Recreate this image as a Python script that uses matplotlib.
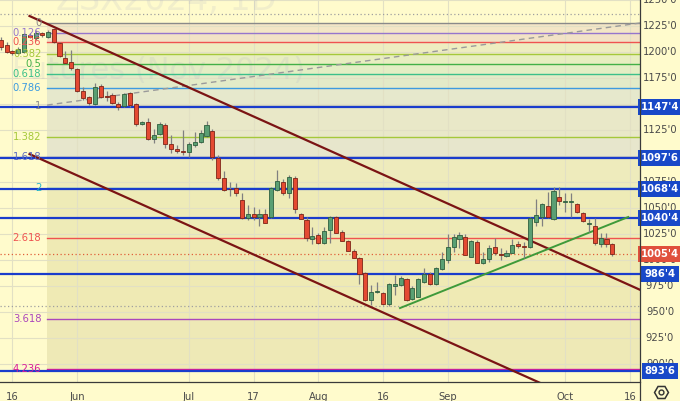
import matplotlib
matplotlib.use('Agg')
import matplotlib.pyplot as plt
import matplotlib.transforms as mtransforms
import numpy as np

# ---------------- data ----------------
opens = [1211.6,1206.8,1201.1,1198.8,1200.4,1216.4,1213.3,1218.1,1214.2,1221.9,
         1209.2,1194.6,1190.5,1183.5,1162.9,1156.6,1150.1,1167.4,1158.0,1158.5,
         1149.8,1148.5,1160.4,1150.1,1130.6,1132.5,1116.5,1121.0,1129.9,1111.4,
         1106.9,1105.2,1104.3,1110.7,1113.3,1119.6,1124.4,1098.5,1079.3,1068.5,
         1069.1,1057.8,1040.5,1044.1,1041.8,1044.1,1041.2,1067.5,1074.8,1064.8,
         1078.7,1044.7,1038.6,1020.3,1023.9,1016.8,1029.0,1041.2,1026.8,1018.4,
         1008.5,1001.8,987.4,961.7,969.7,968.1,957.6,975.4,976.6,981.6,
         963.0,964.9,979.3,987.0,977.1,991.2,1000.5,1012.4,1020.6,1022.0,
         1003.1,1017.8,997.0,1000.8,1012.4,1005.9,1004.0,1007.2,1015.3,1013.3,
         1012.4,1037.0,1041.8,1052.3,1039.6,1061.0,1055.9,1055.6,1054.0,1045.6,
         1034.5,1032.9,1015.3,1020.1,1015.5]
highs = [1214.5,1209.7,1202.0,1204.9,1218.4,1218.4,1221.2,1219.3,1221.2,1223.2,
         1209.7,1201.1,1202.0,1184.7,1166.5,1157.8,1170.3,1169.3,1162.6,1160.7,
         1152.0,1160.7,1161.6,1151.1,1134.1,1136.4,1125.8,1133.1,1131.6,1120.3,
         1110.7,1125.1,1113.9,1123.5,1125.1,1134.1,1125.8,1101.1,1085.7,1075.4,
         1073.9,1064.3,1053.0,1050.8,1048.9,1049.2,1070.6,1086.7,1077.7,1081.8,
         1080.9,1045.6,1041.8,1031.6,1025.8,1032.2,1042.5,1042.5,1029.0,1019.4,
         1010.4,1002.7,988.9,976.1,979.3,969.7,977.8,985.7,984.8,982.6,
         975.2,982.6,992.2,988.9,993.7,1008.2,1025.1,1025.1,1027.4,1025.1,
         1019.4,1019.4,1008.2,1014.6,1021.0,1011.4,1009.8,1020.1,1018.4,1017.8,
         1041.8,1058.5,1055.2,1065.8,1070.6,1070.6,1064.3,1064.3,1055.2,1046.6,
         1039.3,1040.2,1025.8,1025.8,1016.2]
lows = [1202.0,1199.1,1197.2,1198.2,1199.1,1213.5,1211.6,1214.5,1213.6,1208.7,
        1195.3,1188.6,1182.8,1161.7,1154.0,1149.2,1149.2,1155.9,1153.0,1150.1,
        1144.4,1147.2,1147.2,1128.9,1129.6,1115.5,1112.9,1120.3,1107.5,1103.3,
        1102.7,1101.1,1099.5,1109.1,1112.3,1118.7,1096.3,1077.1,1066.5,1061.7,
        1061.7,1039.6,1038.6,1038.6,1032.8,1035.7,1041.0,1066.5,1062.6,1059.5,
        1045.6,1039.3,1018.7,1015.5,1015.5,1015.5,1016.8,1025.8,1018.1,1008.5,
        1001.8,977.1,961.2,956.9,968.8,956.9,955.9,966.5,975.2,961.0,
        961.7,964.3,977.8,976.1,976.4,990.6,997.0,1008.2,1011.4,1005.0,
        1002.8,997.0,996.3,998.5,1004.9,1000.2,1003.3,1006.6,1011.4,1001.8,
        1011.4,1032.8,1032.8,1040.2,1038.6,1053.0,1046.6,1041.8,1045.0,1037.0,
        1027.4,1014.6,1012.9,1012.9,1004.3]
closes = [1204.9,1200.4,1198.8,1202.7,1217.1,1214.2,1218.6,1216.2,1219.6,1210.2,
          1196.5,1189.8,1184.4,1162.9,1155.6,1150.8,1166.7,1157.1,1157.2,1151.4,
          1147.5,1159.7,1149.2,1130.6,1132.8,1116.5,1120.3,1130.9,1111.4,1106.6,
          1104.9,1104.3,1111.7,1113.3,1121.9,1129.9,1099.5,1079.3,1067.5,1068.0,
          1064.8,1040.6,1044.1,1041.5,1044.1,1036.0,1069.1,1076.1,1064.3,1080.2,
          1048.9,1039.6,1021.6,1023.2,1016.2,1028.0,1041.2,1026.4,1018.7,1009.1,
          1002.4,986.7,962.2,969.1,969.9,957.6,976.8,976.8,982.4,962.2,
          973.7,981.6,987.0,976.9,992.9,1000.8,1012.4,1022.0,1024.2,1005.3,
          1018.4,997.6,1000.8,1011.4,1006.6,1004.7,1007.2,1014.6,1013.6,1012.7,
          1040.8,1043.4,1054.0,1041.2,1066.5,1057.1,1057.1,1055.7,1046.0,1037.9,
          1034.5,1016.8,1021.0,1015.3,1005.5]

xtick_bars = [2, 13, 32, 43, 54, 65, 76, 96, 107]
xtick_labels = ['16', 'Jun', 'Jul', '17', 'Aug', '16', 'Sep', 'Oct', '16']

price_ticks = [900, 925, 950, 975, 1000, 1025, 1050, 1075, 1100, 1125, 1150, 1175, 1200, 1225, 1250]

# Fibonacci extension levels (ratio, price, colour)
fib_ratios = ['0', '0.126', '0.236', '0.382', '0.5', '0.618', '0.786', '1',
              '1.382', '1.618', '2', '2.618', '3.618', '4.236']
fib_prices = [1227.9, 1218.2, 1209.7, 1198.2, 1188.6, 1179.0, 1165.5, 1148.2,
              1118.4, 1099.3, 1069.5, 1021.4, 943.6, 895.5]
fib_colors = ['#8a8a8a', '#9575cd', '#ef5350', '#a5c83a', '#43b047', '#3cc08a', '#3d9be0', '#8a8a8a',
              '#a5c83a', '#5c6bc0', '#26b5c8', '#ef5350', '#ab47bc', '#d81b9a']
# background tint of each band (between level i and i+1)
band_colors = ['#f3e6c6', '#f2e2c6', '#eeedc0', '#e8eec0', '#e4eec4', '#e3ebc8', '#e6e8cc',
               '#e9e8c8', '#e7e6cc', '#eeebbc', '#eeebb7', '#efeab4', '#eee9b6']
fib_start_bar = 7.9

# horizontal support/resistance lines with their price labels
level_prices = [1147.5, 1097.75, 1068.5, 1040.5, 986.5, 893.75]
level_labels = ["1147'4", "1097'6", "1068'4", "1040'4", "986'4", "893'6"]
last_price = 1005.5
last_label = "1005'4"

# trend lines: (bar, price) anchor pairs
channel_upper = [(4.9, 1234.7), (70.1, 1069.4)]
channel_lower = [(4.9, 1102.0), (70.1, 936.8)]
green_line = [(67.9, 954.0), (106.7, 1041.5)]
dashed_line = [(7.9, 1149.1), (108.7, 1228.0)]
range_hi, range_lo = 1236.5, 956.0

# ---------------- figure ----------------
W, H = 680, 401
fig = plt.figure(figsize=(W/100, H/100), dpi=100)
BG = '#fffbcc'
fig.patch.set_facecolor(BG)
plot_r, plot_b = 640, 382
ax = fig.add_axes([0, (H-plot_b)/H, plot_r/W, plot_b/H])
ax.set_facecolor(BG)
XMIN, XMAX = -0.12, 108.7
YMIN, YMAX = 882.9, 1250.1
ax.set_xlim(XMIN, XMAX)
ax.set_ylim(YMIN, YMAX)

# fib bands
for i in range(len(fib_prices)-1):
    ax.fill_between([fib_start_bar, XMAX], fib_prices[i+1], fib_prices[i],
                    color=band_colors[i], lw=0, zorder=0.5)

# grid
for p in price_ticks:
    ax.axhline(p, color='#e2e0c4', lw=0.8, zorder=0.6)
for b in xtick_bars:
    ax.axvline(b, color='#e2e0c4', lw=0.8, zorder=0.6)

# watermark
ax.text(0.477, 0.815, 'Soybean Futures (Nov 2024)', transform=ax.transAxes, ha='right',
        va='center', fontsize=22, color='#a8acc4', alpha=0.16, zorder=0.7)
ax.text(0.26, 1.0, 'ZSX2024, 1D', transform=ax.transAxes, ha='center', va='center',
        fontsize=24, color='#a8acc4', alpha=0.16, zorder=0.7)

# fib lines and labels
for r, p, c in zip(fib_ratios, fib_prices, fib_colors):
    ax.plot([fib_start_bar, XMAX], [p, p], color=c, lw=1.0, zorder=1)
    ax.text(fib_start_bar - 1.0, p, r, color=c, fontsize=7.2, ha='right', va='center', zorder=5)

# dotted range lines
for p in (range_hi, range_lo):
    ax.axhline(p, color='#a0a0a0', lw=0.9, ls=(0, (1, 2)), zorder=1)
ax.axhline(last_price, color='#e0603a', lw=0.9, ls=(0, (1, 2)), zorder=1)

# blue levels
for p in level_prices:
    ax.axhline(p, color='#1a3ccc', lw=1.6, zorder=2)

# dashed fib trend line
(xa, ya), (xb, yb) = dashed_line
ax.plot([xa, xb], [ya, yb], color='#9a9a9a', lw=1.0, ls=(0, (4, 3)), zorder=1.5)

# channel lines (extend right)
def extend(pts):
    (x1, y1), (x2, y2) = pts
    s = (y2 - y1) / (x2 - x1)
    return [x1, XMAX], [y1, y1 + s * (XMAX - x1)]
for pts in (channel_upper, channel_lower):
    xs, ys = extend(pts)
    ax.plot(xs, ys, color='#7b1414', lw=1.6, zorder=3)
ax.plot([green_line[0][0], green_line[1][0]], [green_line[0][1], green_line[1][1]],
        color='#3e9a3a', lw=1.4, zorder=3)

# candles
x = np.arange(len(opens))
o = np.array(opens); h = np.array(highs); l = np.array(lows); c = np.array(closes)
up = c >= o
ax.vlines(x, l, h, color='#808080', lw=0.9, zorder=3.5)
bottoms = np.minimum(o, c)
heights = np.maximum(np.abs(c - o), 0.9)
ax.bar(x[up], heights[up], bottom=bottoms[up], width=0.7, color='#5a9f73',
       edgecolor='#2f5f3e', lw=0.6, zorder=4)
ax.bar(x[~up], heights[~up], bottom=bottoms[~up], width=0.7, color='#e44a32',
       edgecolor='#7e2417', lw=0.6, zorder=4)

# axes styling
for s in ax.spines.values():
    s.set_visible(False)
ax.set_xticks([]); ax.set_yticks([])

# right price scale
trans = mtransforms.blended_transform_factory(fig.transFigure, ax.transData)
fig.add_artist(plt.Line2D([plot_r/W, plot_r/W], [0, 1], color='#3a3a3a', lw=0.9))
fig.add_artist(plt.Line2D([0, plot_r/W], [(H-plot_b)/H]*2, color='#3a3a3a', lw=0.9))
for p in price_ticks:
    if YMIN < p < YMAX + 3:
        ax.text(660/W, p, f"{p}'0", transform=trans, ha='center', va='center',
                fontsize=7.2, color='#4a4a4a', clip_on=False, zorder=6)
for p, lab in zip(level_prices, level_labels):
    ax.text(660/W, p, lab, transform=trans, ha='center', va='center', fontsize=7.2,
            color='white', fontweight='bold', clip_on=False, zorder=8,
            bbox=dict(boxstyle='square,pad=0.3', fc='#1848c8', ec='none'))
ax.text(660/W, last_price, last_label, transform=trans, ha='center', va='center', fontsize=7.2,
        color='white', fontweight='bold', clip_on=False, zorder=8,
        bbox=dict(boxstyle='square,pad=0.3', fc='#e0503c', ec='none'))

# bottom time scale
xt = mtransforms.blended_transform_factory(ax.transData, ax.transAxes)
for b, lab in zip(xtick_bars, xtick_labels):
    ax.text(b, -0.025, lab, transform=xt, ha='center', va='top', fontsize=7.2,
            color='#4a4a4a', clip_on=False)

# settings icon
icon_ax = fig.add_axes([641/W, 0, 39/W, 19/H])
icon_ax.set_xlim(0, 1); icon_ax.set_ylim(0, 1); icon_ax.axis('off')
icon_ax.plot([0.5], [0.5], marker='H', ms=10, mfc='none', mec='#333333', mew=1.1)
icon_ax.plot([0.5], [0.5], marker='o', ms=3.5, mfc='none', mec='#333333', mew=1.0)

fig.savefig('out.png', dpi=100, facecolor=BG)
